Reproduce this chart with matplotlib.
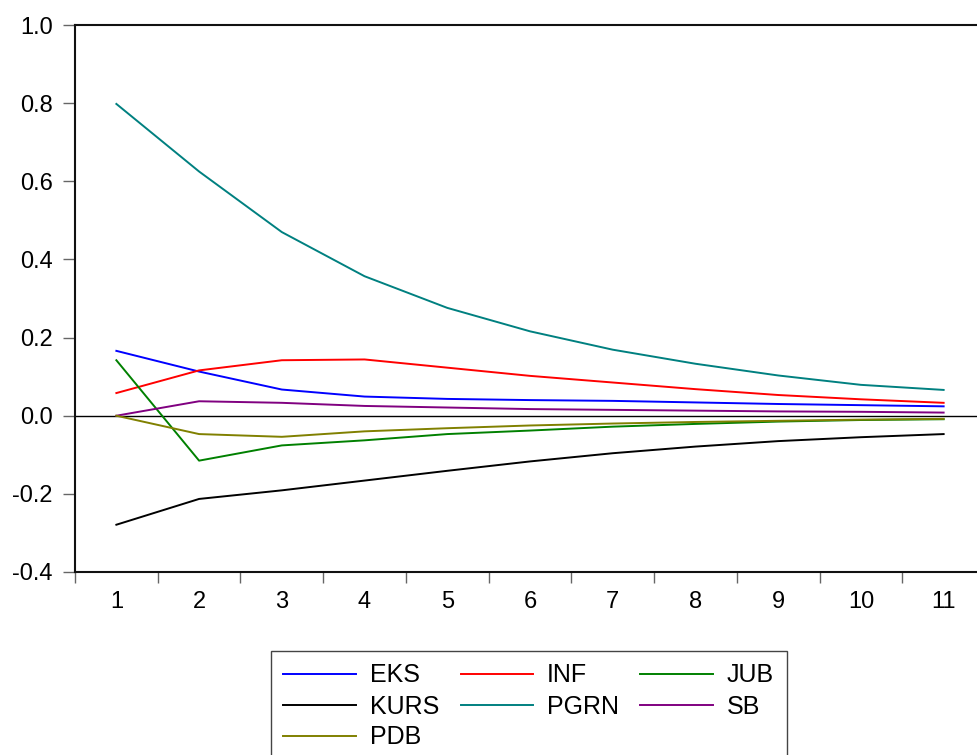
import matplotlib
matplotlib.use("Agg")
import matplotlib.pyplot as plt
from matplotlib.ticker import FixedLocator

plt.rcParams['font.family'] = ['Liberation Sans', 'DejaVu Sans']

periods = [1, 2, 3, 4, 5, 6, 7, 8, 9, 10, 11]
EKS = [0.166, 0.113, 0.067, 0.049, 0.043, 0.040, 0.038, 0.034, 0.030, 0.027, 0.024]
INF = [0.058, 0.116, 0.142, 0.144, 0.123, 0.102, 0.085, 0.068, 0.053, 0.042, 0.033]
JUB = [0.142, -0.115, -0.076, -0.063, -0.047, -0.038, -0.028, -0.021, -0.015, -0.011, -0.009]
KURS = [-0.279, -0.213, -0.191, -0.166, -0.141, -0.117, -0.096, -0.079, -0.065, -0.055, -0.047]
PGRN = [0.798, 0.625, 0.470, 0.357, 0.276, 0.216, 0.169, 0.133, 0.103, 0.079, 0.066]
SB = [0.0, 0.037, 0.033, 0.025, 0.021, 0.017, 0.015, 0.013, 0.011, 0.010, 0.008]
PDB = [0.0, -0.047, -0.054, -0.040, -0.032, -0.025, -0.020, -0.016, -0.013, -0.010, -0.008]

series = [("EKS", EKS, "#0000ff"), ("INF", INF, "#ff0000"), ("JUB", JUB, "#008000"),
          ("KURS", KURS, "#000000"), ("PGRN", PGRN, "#008080"), ("SB", SB, "#800080"),
          ("PDB", PDB, "#808000")]
y_ticks = [-0.4, -0.2, 0.0, 0.2, 0.4, 0.6, 0.8, 1.0]

W, H = 978, 755
fig = plt.figure(figsize=(W / 100, H / 100), dpi=100)
ax = fig.add_axes([75 / W, 1 - 572 / H, 910 / W, 547 / H])

ax.axhline(0, color="black", lw=1.0, zorder=1)
lines = {}
for name, vals, col in series:
    lines[name], = ax.plot(periods, vals, color=col, lw=1.4, label=name, zorder=2)

ax.set_xlim(0.5, 11.5)
ax.set_ylim(-0.4, 1.0)
ax.set_yticks(y_ticks)
ax.set_yticklabels([f"{v:.1f}" for v in y_ticks])
ax.set_xticks(periods)
ax.set_xticklabels([str(p) for p in periods])
ax.xaxis.set_minor_locator(FixedLocator([p - 0.5 for p in periods] + [11.5]))
ax.tick_params(axis='x', which='major', length=0, pad=14, labelsize=17)
ax.tick_params(axis='x', which='minor', length=8, width=1.0, color="#666666", direction='out')
ax.tick_params(axis='y', which='major', length=9, width=1.0, color="#666666", pad=7, labelsize=17)

for s in ["left", "bottom", "top"]:
    ax.spines[s].set_linewidth(1.5)
    ax.spines[s].set_color("#111111")
ax.spines["right"].set_visible(False)

# matplotlib fills legend columns first; reorder so rows read EKS INF JUB / KURS PGRN SB / PDB
order = ["EKS", "KURS", "PDB", "INF", "PGRN", "JUB", "SB"]
fs = 18
leg = fig.legend([lines[n] for n in order], order,
                 loc="upper left", bbox_to_anchor=(271 / W, 1 - 651 / H), ncol=3,
                 fontsize=fs, handlelength=2.9, handletextpad=0.56, columnspacing=0.85,
                 labelspacing=0.28, borderpad=0.5, borderaxespad=0, fancybox=False,
                 edgecolor="#444444", framealpha=1)
leg.get_frame().set_linewidth(1.0)

fig.savefig("out.png", dpi=100)
